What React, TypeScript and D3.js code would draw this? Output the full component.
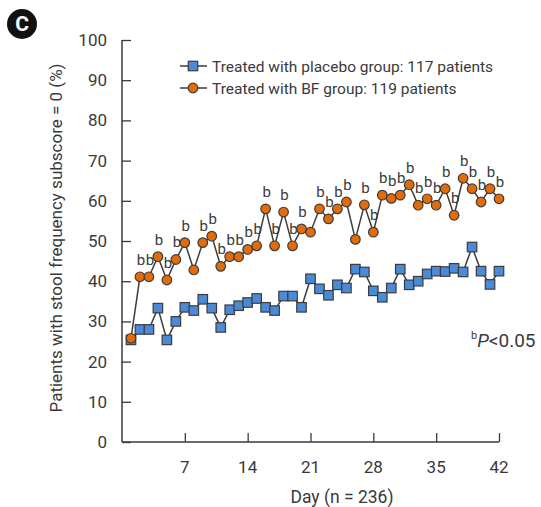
import { useEffect, useRef } from "react";
import * as d3 from "d3";

// day 1..42
const days = [
  1, 2, 3, 4, 5, 6, 7, 8, 9, 10, 11, 12, 13, 14, 15, 16, 17, 18, 19, 20, 21,
  22, 23, 24, 25, 26, 27, 28, 29, 30, 31, 32, 33, 34, 35, 36, 37, 38, 39, 40, 41, 42,
];

const placebo = [
  25.4, 28.0, 28.0, 33.3, 25.4, 30.0, 33.5, 32.7, 35.5, 33.3, 28.5, 32.9, 33.9, 34.7,
  35.7, 33.5, 32.7, 36.3, 36.3, 33.5, 40.6, 38.1, 36.5, 39.1, 38.3, 43.0, 42.3, 37.6,
  36.0, 38.3, 43.0, 39.1, 40.0, 41.8, 42.5, 42.4, 43.2, 42.3, 48.5, 42.5, 39.2, 42.5,
];

const bf = [
  25.8, 41.1, 41.1, 46.1, 40.3, 45.4, 49.6, 42.8, 49.6, 51.2, 43.7, 46.1, 46.1, 47.9,
  48.8, 58.0, 48.8, 57.2, 48.8, 53.0, 52.2, 58.0, 55.5, 58.0, 59.7, 50.4, 59.0, 52.2,
  61.4, 60.6, 61.4, 64.0, 58.9, 60.5, 58.9, 63.0, 56.4, 65.6, 63.0, 59.7, 63.0, 60.5,
];

// days marked with "b" (P < 0.05)
const sigDays = [
  2, 3, 4, 5, 6, 7, 9, 10, 11, 12, 13, 14, 15, 16, 17, 18, 19, 20, 22, 23, 24, 25,
  27, 28, 29, 30, 31, 32, 33, 34, 35, 36, 37, 38, 39, 40, 41, 42,
];

const xTicks = [7, 14, 21, 28, 35, 42];
const yTicks = [0, 10, 20, 30, 40, 50, 60, 70, 80, 90, 100];

const seriesNames = [
  "Treated with placebo group: 117 patients",
  "Treated with BF group: 119 patients",
];

export default function App() {
  const ref = useRef<SVGSVGElement | null>(null);

  useEffect(() => {
    const svg = d3.select(ref.current);
    svg.selectAll("*").remove();

    const font = "Roboto, 'Noto Sans', sans-serif";
    const ink = "#3a3a3a";
    const blue = "#4a8ad6";
    const orange = "#e36c0a";
    const stroke = "#3c3c3c";

    const x = d3.scaleLinear().domain([0, 42]).range([122, 499]);
    const y = d3.scaleLinear().domain([0, 100]).range([442, 40]);

    // panel badge
    svg.append("circle").attr("cx", 22).attr("cy", 24).attr("r", 15).attr("fill", "#111");
    svg.append("text")
      .attr("x", 22).attr("y", 31)
      .attr("text-anchor", "middle")
      .attr("font-family", font).attr("font-weight", 700)
      .attr("font-size", 21).attr("fill", "#fff")
      .text("C");

    // y axis
    const yAxis = svg.append("g")
      .attr("transform", `translate(${x(0)},0)`)
      .call(d3.axisRight(y).tickValues(yTicks).tickSize(9).tickFormat(() => ""));
    yAxis.select(".domain").attr("stroke", ink).attr("stroke-width", 1.5).attr("d", `M0,${y(100)}V${y(0)}`);
    yAxis.selectAll(".tick line").attr("stroke", ink).attr("stroke-width", 1.3);

    svg.append("g")
      .selectAll("text")
      .data(yTicks)
      .join("text")
      .attr("x", 107)
      .attr("y", d => y(d) + 6)
      .attr("text-anchor", "end")
      .attr("font-family", font).attr("font-size", 17).attr("fill", ink)
      .text(d => d);

    // x axis
    const xAxis = svg.append("g")
      .attr("transform", `translate(0,${y(0)})`)
      .call(d3.axisTop(x).tickValues(xTicks).tickSize(9).tickFormat(() => ""));
    xAxis.select(".domain").attr("stroke", ink).attr("stroke-width", 1.5).attr("d", `M${x(0)},0H${x(42)}`);
    xAxis.selectAll(".tick line").attr("stroke", ink).attr("stroke-width", 1.3);

    svg.append("g")
      .selectAll("text")
      .data(xTicks)
      .join("text")
      .attr("x", d => x(d))
      .attr("y", 473)
      .attr("text-anchor", "middle")
      .attr("font-family", font).attr("font-size", 17).attr("fill", ink)
      .text(d => d);

    // axis titles
    svg.append("text")
      .attr("x", 342).attr("y", 503)
      .attr("text-anchor", "middle")
      .attr("font-family", font).attr("font-size", 17.5).attr("fill", ink)
      .text("Day (n = 236)");

    svg.append("text")
      .attr("transform", "translate(62,238) rotate(-90)")
      .attr("text-anchor", "middle")
      .attr("font-family", font).attr("font-size", 17).attr("fill", ink)
      .text("Patients with stool frequency subscore = 0 (%)");

    // lines
    const line = d3.line<number>()
      .x((_, i) => x(days[i]))
      .y(d => y(d));

    svg.append("path").attr("d", line(placebo)).attr("fill", "none").attr("stroke", stroke).attr("stroke-width", 1.5);
    svg.append("path").attr("d", line(bf)).attr("fill", "none").attr("stroke", stroke).attr("stroke-width", 1.5);

    // markers
    const sq = 9.5;
    svg.append("g")
      .selectAll("rect")
      .data(placebo)
      .join("rect")
      .attr("x", (_, i) => x(days[i]) - sq / 2)
      .attr("y", d => y(d) - sq / 2)
      .attr("width", sq).attr("height", sq)
      .attr("fill", blue).attr("stroke", stroke).attr("stroke-width", 1.2);

    svg.append("g")
      .selectAll("circle")
      .data(bf)
      .join("circle")
      .attr("cx", (_, i) => x(days[i]))
      .attr("cy", d => y(d))
      .attr("r", 4.8)
      .attr("fill", orange).attr("stroke", stroke).attr("stroke-width", 1.2);

    // significance labels
    svg.append("g")
      .selectAll("text")
      .data(sigDays)
      .join("text")
      .attr("x", d => x(d) + 1)
      .attr("y", d => y(bf[days.indexOf(d)]) - 12)
      .attr("text-anchor", "middle")
      .attr("font-family", font).attr("font-size", 15).attr("fill", ink)
      .text("b");

    // legend
    const legend = svg.append("g");
    seriesNames.forEach((name, i) => {
      const ly = 66 + i * 22;
      legend.append("line")
        .attr("x1", 180).attr("x2", 207).attr("y1", ly).attr("y2", ly)
        .attr("stroke", stroke).attr("stroke-width", 1.5);
      if (i === 0) {
        legend.append("rect")
          .attr("x", 193 - sq / 2).attr("y", ly - sq / 2).attr("width", sq).attr("height", sq)
          .attr("fill", blue).attr("stroke", stroke).attr("stroke-width", 1.2);
      } else {
        legend.append("circle")
          .attr("cx", 193).attr("cy", ly).attr("r", 4.8)
          .attr("fill", orange).attr("stroke", stroke).attr("stroke-width", 1.2);
      }
      legend.append("text")
        .attr("x", 212).attr("y", ly + 5.5)
        .attr("font-family", font).attr("font-size", 15.5).attr("fill", ink)
        .text(name);
    });

    // p-value note
    const note = svg.append("text")
      .attr("x", 471).attr("y", 347)
      .attr("font-family", font).attr("font-size", 19).attr("fill", ink);
    note.append("tspan").attr("font-size", 11).attr("dy", -8).text("b");
    note.append("tspan").attr("dy", 8).attr("font-style", "italic").text("P");
    note.append("tspan").text("<0.05");
  }, []);

  return (
    <svg
      ref={ref}
      width={541}
      height={507}
      style={{ position: "absolute", left: 0, top: 0, background: "#fff" }}
    />
  );
}
